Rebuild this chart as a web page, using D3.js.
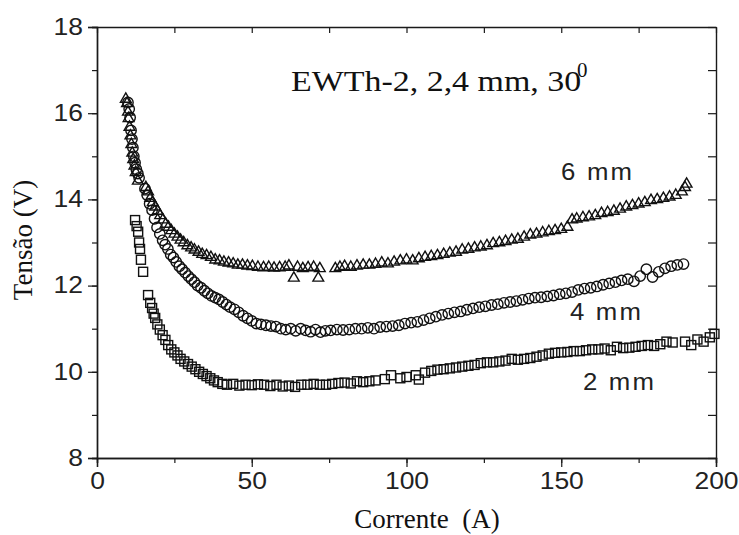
<!DOCTYPE html>
<html>
<head>
<meta charset="utf-8">
<script src="https://cdn.jsdelivr.net/npm/d3@7"></script>
<style>
  html, body { margin: 0; padding: 0; background: #fff; }
  svg { display: block; }
</style>
</head>
<body>
<svg id="chart" width="739" height="535"></svg>
<script>
// Arc voltage vs. current for three arc lengths (EWTh-2 electrode, 2.4 mm, 30°)
const xTicks = [0, 50, 100, 150, 200];
const yTicks = [8, 10, 12, 14, 16, 18];

// 6 mm arc length (triangles)
const i6 = [9.3, 9.7, 10.0, 10.2, 10.5, 10.8, 11.1, 11.4, 11.7, 12.1, 12.5, 13.2,
  15.8, 16.5, 17.2, 18.0, 18.8, 19.6, 20.4, 21.3, 22.2, 23.1, 24.0, 25.0, 26.0, 27.0,
  28.0, 29.2, 30.4, 31.5, 32.8, 34.0, 35.4, 36.8, 38.2, 39.6, 41.0, 42.5, 44.0, 45.5,
  47.0, 48.6, 50.2, 52.0, 53.8, 55.5, 57.2, 59.0, 60.8, 62.0, 63.6, 64.8, 66.5, 68.2,
  70.0, 71.5, 72.0, 77.0, 78.5, 80.0, 82.0, 84.0, 86.0, 88.0, 90.0, 92.0, 94.0, 96.0,
  98.0, 100.0, 102.0, 104.0, 106.0, 108.0, 110.0, 112.0, 114.0, 116.0, 118.0, 120.0,
  122.0, 124.0, 126.0, 128.0, 130.0, 132.0, 134.0, 136.0, 138.0, 140.0, 142.0, 144.0,
  146.0, 148.0, 150.0, 152.0, 153.5, 155.0, 157.0, 159.0, 161.0, 163.0, 165.0, 167.0,
  169.0, 171.0, 173.0, 175.0, 177.0, 179.0, 181.0, 183.0, 185.0, 187.0, 189.0, 190.0, 190.5];
const v6 = [16.35, 16.25, 16.05, 15.9, 15.7, 15.5, 15.3, 15.1, 14.95, 14.8, 14.65, 14.45,
  14.3, 14.2, 14.05, 13.95, 13.85, 13.75, 13.65, 13.55, 13.45, 13.38, 13.3, 13.22, 13.15, 13.08,
  13.02, 12.95, 12.9, 12.85, 12.8, 12.75, 12.72, 12.68, 12.62, 12.6, 12.57, 12.55, 12.53, 12.5,
  12.5, 12.48, 12.47, 12.45, 12.44, 12.45, 12.43, 12.44, 12.45, 12.48, 12.2, 12.45, 12.42, 12.44,
  12.45, 12.2, 12.42, 12.42, 12.45, 12.47, 12.45, 12.48, 12.5, 12.5, 12.52, 12.55, 12.53, 12.57,
  12.6, 12.62, 12.6, 12.65, 12.68, 12.7, 12.72, 12.75, 12.78, 12.8, 12.85, 12.87,
  12.9, 12.92, 12.95, 13.0, 13.02, 13.05, 13.08, 13.1, 13.15, 13.2, 13.22, 13.25,
  13.28, 13.3, 13.33, 13.38, 13.55, 13.57, 13.6, 13.62, 13.65, 13.7, 13.72, 13.75,
  13.8, 13.85, 13.88, 13.92, 13.95, 14.0, 14.02, 14.05, 14.08, 14.12, 14.2, 14.3, 14.38];

// 4 mm arc length (circles)
const i4 = [10.0, 10.4, 10.7, 11.0, 11.3, 11.6, 11.9, 12.3, 12.7, 13.2, 13.6,
  15.5, 16.2, 17.0, 17.8, 18.6, 19.4, 20.3, 21.2, 22.0, 22.9, 23.8, 24.7, 25.6, 26.6,
  27.5, 28.5, 29.5, 30.5, 31.5, 32.5, 33.6, 34.7, 35.8, 37.0, 38.2, 39.4, 40.6, 41.8,
  43.0, 44.4, 45.8, 47.2, 48.6, 50.0, 51.5, 53.0, 54.6, 56.2, 57.8, 59.4, 61.0, 62.6,
  64.2, 65.8, 67.4, 69.0, 70.6, 72.2, 73.8, 75.5, 77.5, 79.5, 81.5, 83.5, 85.5, 87.5,
  89.5, 91.5, 93.5, 95.5, 97.5, 99.5, 101.5, 103.5, 105.5, 107.5, 109.5, 111.5, 113.5,
  115.5, 117.5, 119.5, 121.5, 123.5, 125.5, 127.5, 129.5, 131.5, 133.5, 135.5, 137.5,
  139.5, 141.5, 143.5, 145.5, 147.5, 149.5, 151.5, 153.5, 155.5, 157.5, 159.5, 161.5,
  163.5, 165.5, 167.5, 169.5, 171.5, 173.5, 175.5, 177.5, 179.5, 181.5, 183.5, 185.5,
  187.5, 189.5];
const v4 = [16.25, 16.1, 15.9, 15.6, 15.4, 15.2, 15.0, 14.85, 14.7, 14.6, 14.5,
  14.25, 14.1, 13.9, 13.75, 13.55, 13.35, 13.2, 13.05, 12.95, 12.85, 12.72, 12.65, 12.55, 12.45,
  12.38, 12.3, 12.22, 12.15, 12.08, 12.0, 11.95, 11.88, 11.82, 11.76, 11.72, 11.68, 11.62, 11.56,
  11.5, 11.45, 11.38, 11.3, 11.24, 11.18, 11.12, 11.1, 11.08, 11.06, 11.05, 11.0, 10.98, 11.0,
  10.95, 11.0, 10.96, 10.93, 10.98, 10.92, 10.95, 10.96, 10.98, 10.97, 10.98, 11.0, 11.0, 11.02,
  11.0, 11.04, 11.05, 11.06, 11.08, 11.12, 11.14, 11.16, 11.2, 11.24, 11.28, 11.32, 11.35,
  11.38, 11.4, 11.44, 11.47, 11.5, 11.52, 11.55, 11.57, 11.6, 11.62, 11.64, 11.67,
  11.7, 11.72, 11.73, 11.75, 11.77, 11.8, 11.82, 11.85, 11.9, 11.93, 11.95, 11.98,
  12.02, 12.05, 12.08, 12.12, 12.15, 12.1, 12.22, 12.38, 12.2, 12.32, 12.4, 12.45,
  12.48, 12.5];

// 2 mm arc length (squares)
const i2 = [12.3, 12.8, 13.3, 13.6, 13.9, 14.2, 14.9, 16.5, 17.2, 17.8, 18.3, 18.8, 19.5,
  20.3, 21.2, 22.1, 23.0, 24.0, 25.0, 26.0, 27.0, 28.2, 29.4, 30.6, 31.8, 33.0, 34.2, 35.4,
  36.6, 37.8, 39.0, 40.5, 42.0, 44.0, 46.0, 48.0, 50.0, 52.0, 54.0, 56.0, 58.0, 60.0, 62.0,
  64.0, 66.0, 68.0, 70.0, 72.0, 74.0, 76.0, 78.0, 80.0, 82.0, 84.0, 86.0, 88.0, 90.0, 93.0,
  95.0, 98.0, 100.0, 103.0, 104.0, 106.0, 108.0, 110.0, 112.0, 114.0, 116.0, 118.0, 120.0,
  122.0, 124.0, 126.0, 128.0, 130.0, 132.0, 134.0, 136.0, 138.0, 140.0, 142.0, 144.0, 146.0,
  148.0, 150.0, 152.0, 154.0, 156.0, 158.0, 160.0, 162.0, 164.0, 166.0, 168.0, 170.0, 172.0,
  174.0, 176.0, 178.0, 180.0, 182.0, 184.0, 186.0, 190.0, 192.0, 194.0, 196.0, 198.0, 199.5];
const v2 = [13.52, 13.38, 13.25, 13.0, 12.85, 12.6, 12.32, 11.78, 11.6, 11.48, 11.35, 11.25, 11.1,
  10.98, 10.85, 10.74, 10.62, 10.52, 10.45, 10.38, 10.3, 10.24, 10.18, 10.12, 10.06, 10.0, 9.95, 9.9,
  9.85, 9.8, 9.76, 9.72, 9.7, 9.72, 9.68, 9.7, 9.69, 9.71, 9.7, 9.67, 9.7, 9.66, 9.68,
  9.65, 9.7, 9.7, 9.72, 9.7, 9.7, 9.72, 9.74, 9.75, 9.73, 9.78, 9.76, 9.78, 9.8, 9.83,
  9.92, 9.85, 9.88, 9.92, 9.82, 9.98, 10.02, 10.05, 10.06, 10.08, 10.1, 10.12, 10.14,
  10.16, 10.2, 10.22, 10.22, 10.24, 10.26, 10.3, 10.28, 10.3, 10.32, 10.35, 10.38, 10.42,
  10.44, 10.45, 10.46, 10.48, 10.48, 10.5, 10.52, 10.52, 10.54, 10.5, 10.58, 10.55, 10.56,
  10.58, 10.6, 10.62, 10.6, 10.64, 10.7, 10.68, 10.7, 10.62, 10.75, 10.7, 10.8, 10.88];

const seriesLabels = ["6 mm", "4 mm", "2 mm"];
const labelAt = [[149.9, 14.45], [152.8, 11.2], [157.0, 9.58]];   // [current, voltage] of each label's baseline start

const svg = d3.select("#chart");
const plotL = 97, plotR = 716, plotT = 27, plotB = 458;

const x = d3.scaleLinear().domain([0, 200]).range([plotL, plotR]);
const y = d3.scaleLinear().domain([8, 18]).range([plotB, plotT]);

const ink = "#1a1a1a";
const sans = "'Liberation Sans', Arial, sans-serif";
const serif = "'Liberation Serif', 'Times New Roman', serif";

// widen glyphs horizontally by factor k (keeps anchor)
function widen(sel, k) {
  sel.each(function () {
    const w = this.getComputedTextLength();
    d3.select(this).attr("textLength", w * k).attr("lengthAdjust", "spacingAndGlyphs");
  });
}

// Axes: outward ticks on left/bottom, inward ticks on top/right
const xMinor = d3.range(0, 201, 25);
const yMinor = d3.range(8, 18.01, 1);

const gx = svg.append("g").attr("transform", `translate(0,${plotB})`)
  .call(d3.axisBottom(x).tickValues(xMinor).tickSize(5).tickFormat(""));
gx.append("g").call(d3.axisBottom(x).tickValues(xTicks).tickSize(9).tickPadding(6).tickFormat(d3.format("d")));

const gy = svg.append("g").attr("transform", `translate(${plotL},0)`)
  .call(d3.axisLeft(y).tickValues(yMinor).tickSize(5).tickFormat(""));
gy.append("g").call(d3.axisLeft(y).tickValues(yTicks).tickSize(9).tickPadding(5).tickFormat(d3.format("d")));

svg.append("g").attr("transform", `translate(${plotR},0)`)
  .call(d3.axisLeft(y).tickValues(yMinor).tickSize(0).tickFormat(""))
  .call(g => g.selectAll(".tick line").attr("x2", -8));
svg.append("g").attr("transform", `translate(0,${plotT})`)
  .call(d3.axisTop(x).tickValues(xMinor).tickSize(0).tickFormat(""))
  .call(g => g.selectAll(".tick line").attr("y2", 6));

svg.selectAll(".domain").attr("stroke", ink).attr("stroke-width", 1.4);
svg.selectAll(".tick line").attr("stroke", ink).attr("stroke-width", 1.2);
svg.selectAll(".tick text").attr("fill", "#222").attr("font-family", sans).attr("font-size", 23)
  .call(widen, 1.15);

// Series markers
const tri = d3.symbol().type(d3.symbolTriangle).size(50);

const pts6 = i6.map((d, k) => [d, v6[k]]);
const pts4 = i4.map((d, k) => [d, v4[k]]);
const pts2 = i2.map((d, k) => [d, v2[k]]);

const marks = svg.append("g").attr("fill", "none").attr("stroke", "#111").attr("stroke-width", 1.4);

marks.append("g").selectAll("rect").data(pts2).join("rect")
  .attr("x", d => x(d[0]) - 4.5).attr("y", d => y(d[1]) - 4.5)
  .attr("width", 9).attr("height", 9);

marks.append("g").selectAll("circle").data(pts4).join("circle")
  .attr("cx", d => x(d[0])).attr("cy", d => y(d[1])).attr("r", 5.2);

marks.append("g").selectAll("path").data(pts6).join("path")
  .attr("d", tri)
  .attr("transform", d => `translate(${x(d[0])},${y(d[1]) + 1})`);

// Series labels
svg.append("g").selectAll("text").data(seriesLabels).join("text")
  .attr("x", (d, k) => x(labelAt[k][0]))
  .attr("y", (d, k) => y(labelAt[k][1]))
  .attr("font-family", sans).attr("font-size", 23).attr("fill", "#222")
  .attr("letter-spacing", "2px")
  .text(d => d)
  .call(widen, 1.12);

// Heading inside the frame
const title = svg.append("text")
  .attr("x", 291).attr("y", 91)
  .attr("font-family", serif).attr("fill", "#111");
title.append("tspan").attr("font-size", 29).text("EWTh-2, 2,4 mm, 30")
  .call(widen, 1.17);
title.append("tspan").attr("x", 577).attr("y", 77).attr("font-size", 21).text("0");

// Axis titles
svg.append("text")
  .attr("x", 427).attr("y", 528)
  .attr("text-anchor", "middle")
  .attr("font-family", serif).attr("font-size", 27).attr("fill", "#111")
  .attr("xml:space", "preserve")
  .text("Corrente  (A)");

svg.append("text")
  .attr("transform", `translate(32,240) rotate(-90)`)
  .attr("text-anchor", "middle")
  .attr("font-family", serif).attr("font-size", 27).attr("fill", "#111")
  .text("Tensão (V)");
</script>
</body>
</html>
